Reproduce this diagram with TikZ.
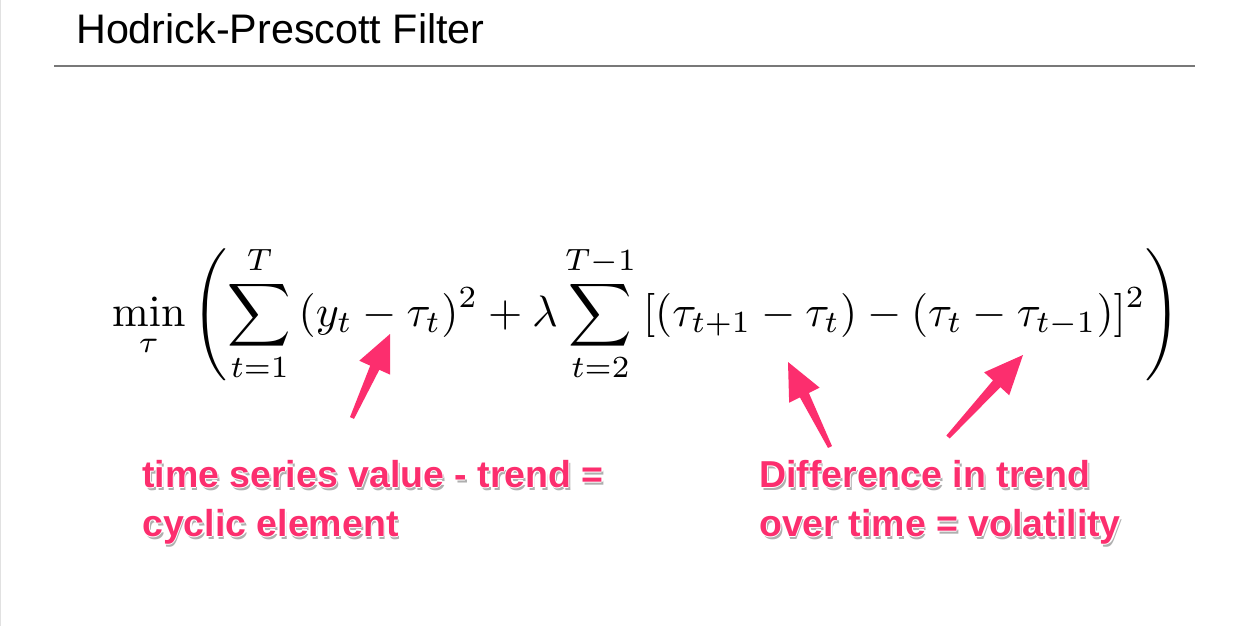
\documentclass[tikz,border=0pt]{standalone}
\usepackage[no-math]{fontspec}
\usepackage{graphicx}
\usetikzlibrary{calc}
\newfontfamily\hpsans{Liberation Sans}
\definecolor{hppink}{RGB}{252,46,110}
\definecolor{rulegray}{RGB}{120,120,120}
\definecolor{edgegray}{RGB}{225,225,225}
\definecolor{shadowgray}{RGB}{175,175,175}
\newcommand{\hpcopy}[4]{\rlap{\hspace*{#1}\raisebox{#2}{\textcolor{#3}{#4}}}}
\newcommand{\halo}[1]{%
  \hpcopy{1.8pt}{-3pt}{shadowgray}{#1}%
  \hpcopy{1.4pt}{0pt}{white}{#1}\hpcopy{-1.4pt}{0pt}{white}{#1}%
  \hpcopy{0pt}{1.4pt}{white}{#1}\hpcopy{0pt}{-1.4pt}{white}{#1}%
  \textcolor{hppink}{#1}}
\newcommand{\hparrow}[3]{%
  \coordinate (#1-b) at ($(#2)!#3!(#1)$);
  \fill[hppink] ($(#1)!2.2pt!90:(#2)$) -- ($(#1-b)!5pt!90:(#2)$) -- ($(#1-b)!17pt!90:(#2)$)
    -- (#2) -- ($(#1-b)!17pt!-90:(#2)$) -- ($(#1-b)!5pt!-90:(#2)$) -- ($(#1)!2.2pt!-90:(#2)$) -- cycle;}
\tikzset{
  pinklabel/.style={anchor=base west, inner sep=0pt, font=\hpsans\bfseries\fontsize{37.5}{49}\selectfont},
  titletext/.style={anchor=base west, inner sep=0pt, font=\hpsans\fontsize{41.3}{48}\selectfont},
}
\begin{document}
\begin{tikzpicture}[x=1pt,y=-1pt]
\useasboundingbox (0,0) rectangle (1240,626);
\fill[white] (0,0) rectangle (1240,626);
\draw[edgegray, line width=1pt] (0.5,0) -- (0.5,626);
\node[titletext] (title) at (76,44) {Hodrick-Prescott Filter};
\coordinate (ruleL) at (54,66);
\coordinate (ruleR) at (1195,66);
\draw[rulegray, line width=1.3pt] (ruleL) -- (ruleR);
\node[anchor=base west, inner sep=0pt] (eq) at (112,326) {\resizebox{1068pt}{!}{$\displaystyle
  \min_{\tau}\left(\sum_{t=1}^{T}\,(y_t-\tau_t)^2+\lambda\sum_{t=2}^{T-1}\,[(\tau_{t+1}-\tau_t)-(\tau_t-\tau_{t-1})]^2\right)$}};
\coordinate (tail1) at (352,418);
\coordinate (tip1) at (390,334);
\coordinate (tail2) at (830,447);
\coordinate (tip2) at (788,362);
\coordinate (tail3) at (948,437);
\coordinate (tip3) at (1023,355);
\hparrow{tail1}{tip1}{37pt}
\hparrow{tail2}{tip2}{37pt}
\hparrow{tail3}{tip3}{39pt}
\node[pinklabel] (lab1a) at (142,487) {\halo{time series value - trend =}};
\node[pinklabel] (lab1b) at (142,536) {\halo{cyclic element}};
\node[pinklabel] (lab2a) at (759,487) {\halo{Difference in trend}};
\node[pinklabel] (lab2b) at (759,536) {\halo{over time = volatility}};
\end{tikzpicture}
\end{document}
